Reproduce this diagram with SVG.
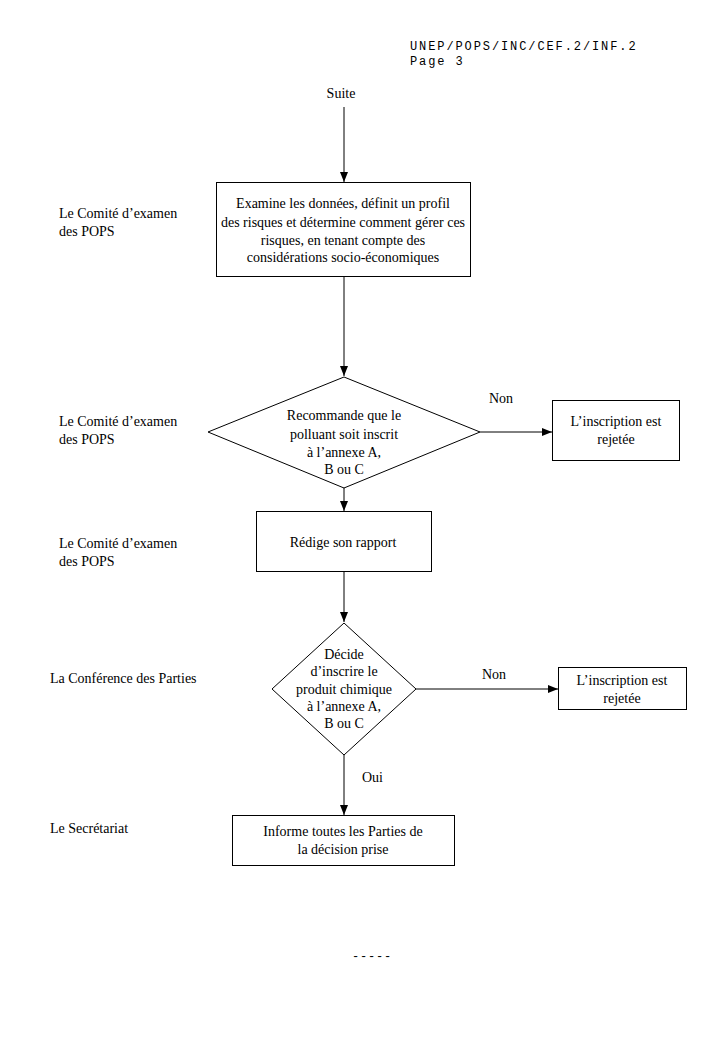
<svg xmlns="http://www.w3.org/2000/svg" width="719" height="1038" viewBox="0 0 719 1038">
<style>
text{font-family:'Liberation Serif','Times New Roman',Times,serif;font-size:14px;fill:#000}
.c{text-anchor:middle}
.mono{font-family:'Liberation Mono','Courier New',monospace;font-size:12px;letter-spacing:1.9px}
.box{fill:#fff;stroke:#000;stroke-width:1}
.ln{fill:none;stroke:#000;stroke-width:1}
</style>
<defs>
<marker id="ah" viewBox="0 0 10 10" refX="10" refY="5" markerWidth="10" markerHeight="10" markerUnits="userSpaceOnUse" orient="auto">
<path d="M0,1 L10,5 L0,9 Z" fill="#000"/>
</marker>
</defs>
<rect width="719" height="1038" fill="#fff"/>
<g id="header">
<text class="mono" x="410" y="50">UNEP/POPS/INC/CEF.2/INF.2</text>
<text class="mono" x="410" y="65">Page 3</text>
</g>
<g id="labels">
<text x="59" y="218">Le Comité d’examen</text>
<text x="59" y="236">des POPS</text>
<text x="59" y="426">Le Comité d’examen</text>
<text x="59" y="444">des POPS</text>
<text x="59" y="548">Le Comité d’examen</text>
<text x="59" y="566">des POPS</text>
<text x="50" y="683">La Conférence des Parties</text>
<text x="50" y="833">Le Secrétariat</text>
</g>
<g id="connectors">
<line class="ln" x1="344" y1="107" x2="344" y2="182" marker-end="url(#ah)"/>
<line class="ln" x1="344" y1="276" x2="344" y2="376" marker-end="url(#ah)"/>
<line class="ln" x1="480" y1="432" x2="552" y2="432" marker-end="url(#ah)"/>
<line class="ln" x1="344" y1="470" x2="344" y2="511" marker-end="url(#ah)"/>
<line class="ln" x1="344" y1="571" x2="344" y2="622" marker-end="url(#ah)"/>
<line class="ln" x1="416" y1="689" x2="558" y2="689" marker-end="url(#ah)"/>
<line class="ln" x1="344" y1="755" x2="344" y2="815" marker-end="url(#ah)"/>
<text x="489" y="403">Non</text>
<text x="482" y="679">Non</text>
<text x="362" y="782">Oui</text>
</g>
<g id="start">
<text class="c" x="341" y="98">Suite</text>
</g>
<g id="examine">
<rect class="box" x="216.5" y="182.5" width="254" height="94"/>
<text class="c" x="343" y="208">Examine les données, définit un profil</text>
<text class="c" x="343" y="227">des risques et détermine comment gérer ces</text>
<text class="c" x="343" y="245">risques, en tenant compte des</text>
<text class="c" x="343" y="262">considérations socio-économiques</text>
</g>
<g id="recommande">
<polygon class="box" points="344,377 480,432 344,488 208,432"/>
<text class="c" x="344" y="420">Recommande que le</text>
<text class="c" x="344" y="439">polluant soit inscrit</text>
<text class="c" x="344" y="457">à l’annexe A,</text>
<text class="c" x="344" y="474">B ou C</text>
</g>
<g id="rejet1">
<rect class="box" x="552.5" y="400.5" width="127" height="60"/>
<text class="c" x="616" y="426">L’inscription est</text>
<text class="c" x="616" y="444">rejetée</text>
</g>
<g id="rapport">
<rect class="box" x="256.5" y="511.5" width="175" height="60"/>
<text class="c" x="343" y="547">Rédige son rapport</text>
</g>
<g id="decide">
<polygon class="box" points="344,623 416,689 344,755 272,689"/>
<text class="c" x="344" y="659">Décide</text>
<text class="c" x="344" y="676">d’inscrire le</text>
<text class="c" x="344" y="694">produit chimique</text>
<text class="c" x="344" y="711">à l’annexe A,</text>
<text class="c" x="344" y="728">B ou C</text>
</g>
<g id="rejet2">
<rect class="box" x="558.5" y="667.5" width="128" height="42"/>
<text class="c" x="622" y="685">L’inscription est</text>
<text class="c" x="622" y="703">rejetée</text>
</g>
<g id="informe">
<rect class="box" x="232.5" y="815.5" width="222" height="50"/>
<text class="c" x="343" y="836">Informe toutes les Parties de</text>
<text class="c" x="343" y="854">la décision prise</text>
</g>
<g id="footer">
<text class="mono" x="352" y="960" style="letter-spacing:0.8px">-----</text>
</g>
</svg>
